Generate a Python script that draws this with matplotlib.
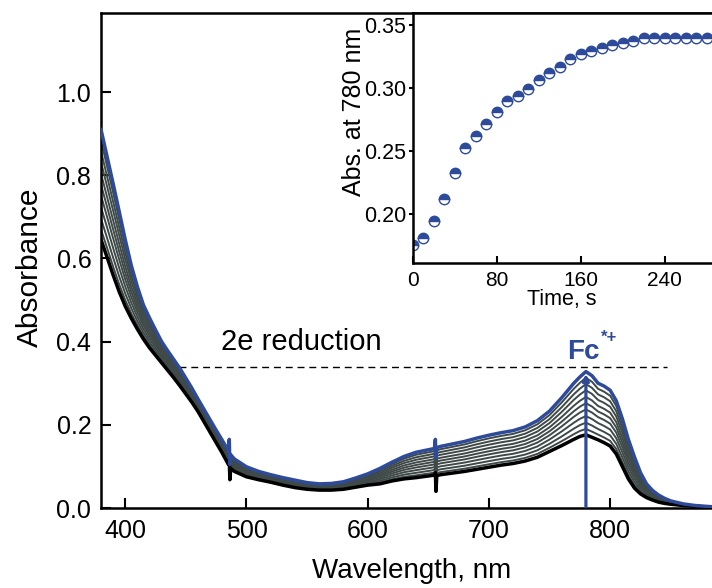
import matplotlib
matplotlib.use("Agg")
import matplotlib.pyplot as plt
import numpy as np

plt.rcParams['font.family'] = ['Liberation Sans', 'DejaVu Sans']

# ---------------- data ----------------
wavelength = [380, 385, 390, 395, 400, 405, 410, 415, 420, 425, 430, 435, 440, 445,
              450, 455, 460, 465, 470, 475, 480, 485, 485.8, 486.3, 487, 490, 500,
              510, 520, 530, 540, 550, 560, 570, 580, 590, 600, 610, 620, 630, 640,
              650, 655, 655.8, 656.3, 657, 660, 670, 680, 690, 700, 710, 720, 730,
              740, 750, 760, 770, 775, 780, 785, 790, 795, 800, 805, 810, 815, 820,
              825, 830, 835, 840, 845, 850, 860, 870, 884]

abs_final = [0.91, 0.845, 0.78, 0.713, 0.645, 0.583, 0.532, 0.488, 0.457, 0.428, 0.40,
             0.378, 0.357, 0.336, 0.312, 0.288, 0.262, 0.237, 0.212, 0.187, 0.163, 0.138,
             0.165, 0.105, 0.128, 0.118, 0.099, 0.088, 0.08, 0.073, 0.067, 0.061, 0.058,
             0.059, 0.063, 0.072, 0.082, 0.095, 0.11, 0.124, 0.134, 0.14, 0.143, 0.165,
             0.12, 0.145, 0.148, 0.154, 0.16, 0.168, 0.175, 0.181, 0.186, 0.195, 0.21,
             0.233, 0.265, 0.30, 0.315, 0.328, 0.318, 0.30, 0.293, 0.283, 0.258, 0.215,
             0.165, 0.123, 0.085, 0.058, 0.042, 0.031, 0.023, 0.017, 0.01, 0.006, 0.003]

abs_initial = [0.645, 0.603, 0.56, 0.52, 0.485, 0.456, 0.43, 0.406, 0.385, 0.367, 0.349,
               0.331, 0.313, 0.294, 0.274, 0.254, 0.232, 0.207, 0.182, 0.157, 0.132, 0.105,
               0.115, 0.068, 0.095, 0.088, 0.075, 0.068, 0.062, 0.055, 0.049, 0.045, 0.043,
               0.043, 0.045, 0.05, 0.055, 0.058, 0.065, 0.07, 0.073, 0.077, 0.079, 0.085,
               0.04, 0.078, 0.08, 0.084, 0.088, 0.093, 0.098, 0.103, 0.107, 0.113, 0.122,
               0.136, 0.15, 0.165, 0.172, 0.176, 0.17, 0.164, 0.157, 0.149, 0.13, 0.10,
               0.07, 0.048, 0.034, 0.025, 0.019, 0.014, 0.011, 0.009, 0.006, 0.004, 0.002]

# absorbance at 780 nm of the intermediate spectra
intermediate_780 = [0.19, 0.205, 0.221, 0.237, 0.252, 0.267, 0.283, 0.298, 0.313]

# inset kinetics
time_s = [0, 10, 20, 30, 40, 50, 60, 70, 80, 90, 100, 110, 120, 130, 140, 150, 160,
          170, 180, 190, 200, 210, 220, 230, 240, 250, 260, 270, 280]
abs_780 = [0.175, 0.181, 0.194, 0.212, 0.232, 0.252, 0.262, 0.2715, 0.281, 0.290,
           0.294, 0.299, 0.3065, 0.312, 0.317, 0.323, 0.327, 0.3296, 0.332, 0.3344,
           0.3357, 0.3378, 0.3397, 0.3397, 0.340, 0.340, 0.3397, 0.340, 0.340]

xticks_main = [400, 500, 600, 700, 800]
yticks_main = [0.0, 0.2, 0.4, 0.6, 0.8, 1.0]
xticks_inset = [0, 80, 160, 240]
yticks_inset = [0.20, 0.25, 0.30, 0.35]

BLUE = '#2E4A9A'
GRAY = '#3E4948'

# ---------------- figure ----------------
W, H = 712, 588
fig = plt.figure(figsize=(W / 100, H / 100), dpi=100)
ax = fig.add_axes([101 / W, (H - 508) / H, (W - 101) / W, 495 / H])

wl = np.array(wavelength)
a0 = np.array(abs_initial)
a1 = np.array(abs_final)
i780 = wavelength.index(780)
for p in intermediate_780:
    f = (p - a0[i780]) / (a1[i780] - a0[i780])
    ax.plot(wl, a0 + (a1 - a0) * f, color=GRAY, lw=1.4, zorder=2, solid_joinstyle='round')
ax.plot(wl, a0, color='black', lw=2.5, zorder=3)
ax.plot(wl, a1, color=BLUE, lw=2.5, zorder=4)

ax.annotate('', xy=(780, 0.322), xytext=(780, 0.003),
            arrowprops=dict(arrowstyle='-|>', color=BLUE, lw=2.3, mutation_scale=9,
                            shrinkA=0, shrinkB=0), zorder=5)
ax.plot([444, 847], [0.34, 0.34], color='black', lw=1.0, ls=(0, (5, 3.5)), zorder=1)
ax.text(545, 0.40, '2e reduction', fontsize=21, ha='center', va='center')
ax.text(778, 0.376, 'Fc', fontsize=20, fontweight='bold', color=BLUE, ha='center', va='center')
ax.text(792.5, 0.41, '*+', fontsize=12, fontweight='bold', color=BLUE, ha='left', va='center')

ax.set_xlim(380, 884)
ax.set_ylim(0, 1.19)
ax.set_xticks(xticks_main)
ax.set_yticks(yticks_main)
ax.set_yticklabels([f'{v:.1f}' for v in yticks_main])
ax.tick_params(direction='in', length=7, width=1.5, labelsize=18, pad=8)
ax.tick_params(axis='y', pad=7)
for s in ['left', 'bottom', 'top']:
    ax.spines[s].set_linewidth(1.8)
ax.spines['right'].set_visible(False)
ax.set_xlabel('Wavelength, nm', fontsize=20)
ax.xaxis.set_label_coords((412 - 101) / 611, (508 - 558) / 495)
ax.set_ylabel('Absorbance', fontsize=21.5)
ax.yaxis.set_label_coords((44 - 101) / 611, (508 - 267) / 495)

# ---------------- inset ----------------
ax2 = fig.add_axes([413 / W, (H - 263) / H, (W - 413) / W, 250 / H])
ax2.plot(time_s, abs_780, ls='none', marker='o', ms=7.5, fillstyle='top',
         markerfacecolor=BLUE, markerfacecoloralt='white', markeredgecolor=BLUE,
         markeredgewidth=1.0)
ax2.set_xlim(0, 285)
ax2.set_ylim(0.1607, 0.3598)
ax2.set_xticks(xticks_inset)
ax2.set_yticks(yticks_inset)
ax2.set_yticklabels([f'{v:.2f}' for v in yticks_inset])
ax2.tick_params(axis='x', direction='in', length=5, width=1.5, labelsize=15, pad=6)
ax2.tick_params(axis='y', direction='out', length=3, width=1.5, labelsize=15.5, pad=2)
for s in ['left', 'bottom', 'top']:
    ax2.spines[s].set_linewidth(1.8)
ax2.spines['right'].set_visible(False)
ax2.set_xlabel('Time, s', fontsize=15.5)
ax2.xaxis.set_label_coords((562 - 413) / 299, (263 - 289) / 250)
ax2.set_ylabel('Abs. at 780 nm', fontsize=18)
ax2.yaxis.set_label_coords((366 - 413) / 299, (263 - 112) / 250)

fig.savefig('out.png', dpi=100)
